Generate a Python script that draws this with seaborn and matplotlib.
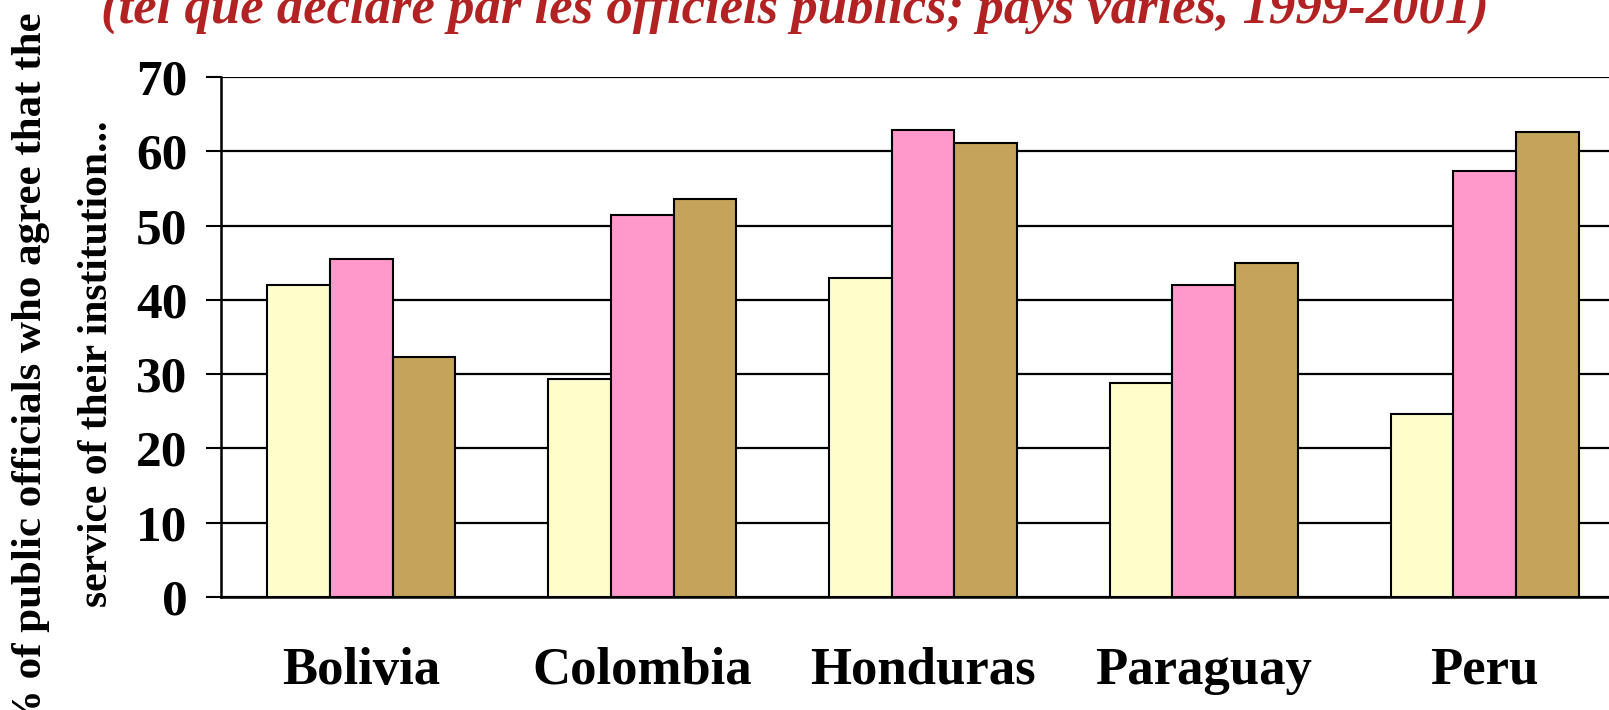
import pandas as pd
import matplotlib
matplotlib.use("Agg")
import matplotlib.pyplot as plt
import seaborn as sns
from matplotlib.ticker import FixedLocator

# Données
pays = ["Bolivia", "Colombia", "Honduras", "Paraguay", "Peru"]
series = ["serie_1", "serie_2", "serie_3"]
serie_1 = [42.0, 29.4, 42.9, 28.8, 24.7]
serie_2 = [45.5, 51.4, 62.9, 42.0, 57.3]
serie_3 = [32.3, 53.6, 61.1, 45.0, 62.6]
couleurs = ["#FFFFCC", "#FF99CC", "#C4A35A"]
y_ticks = [0, 10, 20, 30, 40, 50, 60, 70]

df = pd.DataFrame({
    "pays": pays * 3,
    "serie": [s for s in series for _ in pays],
    "valeur": serie_1 + serie_2 + serie_3,
})

sns.set_style("white")
plt.rcParams["font.family"] = ["Liberation Serif", "DejaVu Serif"]
plt.rcParams["font.weight"] = "bold"
plt.rcParams["text.color"] = "black"
plt.rcParams["xtick.color"] = "black"
plt.rcParams["ytick.color"] = "black"

fig = plt.figure(figsize=(16.09, 7.10), dpi=100)
ax = fig.add_axes([221 / 1609, 1 - 597 / 710, 1404 / 1609, 520 / 710])

sns.barplot(data=df, x="pays", y="valeur", hue="serie", palette=couleurs,
            saturation=1, width=0.67, gap=0, edgecolor="black", linewidth=1.5,
            legend=False, ax=ax, zorder=3)

ax.set_xlim(-0.5, 4.5)
ax.set_ylim(0, 70)
ax.set_yticks(y_ticks)
ax.set_yticklabels([str(t) for t in y_ticks], fontsize=37, fontweight="bold")
ax.set_xticks(range(len(pays)))
ax.set_xticklabels(pays, fontsize=38, fontweight="bold")
ax.xaxis.set_minor_locator(FixedLocator([i - 0.5 for i in range(len(pays) + 1)]))

ax.tick_params(axis="x", which="major", length=0, pad=36)
ax.tick_params(axis="x", which="minor", length=13, width=1.5, direction="out", color="black")
ax.tick_params(axis="y", length=11, width=1.5, direction="out", color="black", pad=13, left=True)

ax.set_axisbelow(True)
ax.grid(axis="y", color="black", linewidth=1.6)
ax.set_xlabel("")
ax.set_ylabel("")

for side in ["top", "right"]:
    ax.spines[side].set_visible(False)
for side in ["left", "bottom"]:
    ax.spines[side].set_color("black")
    ax.spines[side].set_linewidth(1.8)

# Libellés de l'axe Y (deux lignes)
fig.text(31 / 1609, 1 - 372 / 710, "% of public officials who agree that the",
         rotation=90, ha="center", va="center", fontsize=31, fontweight="bold")
fig.text(97 / 1609, 1 - 364 / 710, "service of their institution...",
         rotation=90, ha="center", va="center", fontsize=30, fontweight="bold")

# Titre (coupé en haut, comme sur l'original)
fig.text(795 / 1609, 1 - 23 / 710,
         "(tel que déclaré par les officiels publics; pays variés, 1999-2001)",
         ha="center", va="baseline", fontsize=38, fontweight="bold",
         fontstyle="italic", color="#B22222")

fig.savefig("out.png", dpi=100)
